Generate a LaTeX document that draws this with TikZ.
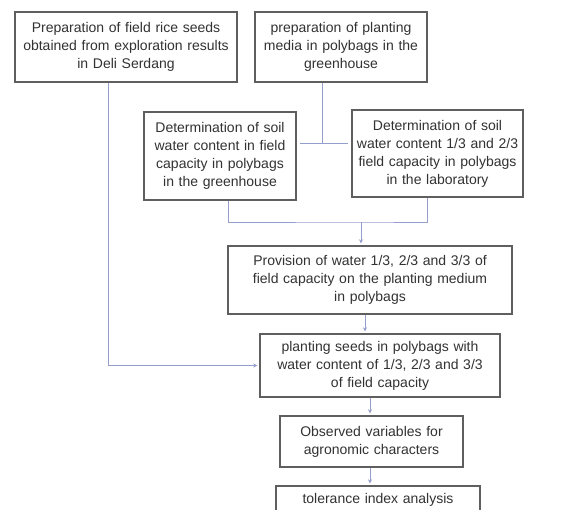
\documentclass[tikz,border=0pt]{standalone}
\usepackage{fontspec}
\setmainfont{Liberation Sans}
\usetikzlibrary{arrows.meta}
\definecolor{boxline}{RGB}{95,95,95}
\definecolor{conncol}{RGB}{150,158,205}
\definecolor{txtcol}{RGB}{50,50,50}
\begin{document}
\begin{tikzpicture}[x=1pt,y=-1pt,
  stepbox/.style={draw=boxline,line width=1.4pt,fill=white,align=center,inner sep=2pt,
    text=txtcol,font=\fontsize{14}{18}\selectfont},
  conn/.style={draw=conncol,line width=0.8pt},
  arr/.style={conn,-{Stealth[length=4pt,width=4pt]},shorten >=2pt}]
\clip (0,0) rectangle (575,510);
\fill[white] (0,0) rectangle (575,510);
\node[stepbox,minimum width=222pt,minimum height=70pt,text width=216pt] (b1) at (126,47)
  {Preparation of field rice seeds\\obtained from exploration results\\in Deli Serdang};
\node[stepbox,minimum width=172pt,minimum height=70pt,text width=166pt] (b2) at (341,47)
  {preparation of planting\\media in polybags in the\\greenhouse};
\node[stepbox,minimum width=152pt,minimum height=88pt,text width=146pt] (b3) at (220,156)
  {Determination of soil\\water content in field\\capacity in polybags\\in the greenhouse};
\node[stepbox,minimum width=171pt,minimum height=87pt,text width=165pt] (b4) at (437.5,153.5)
  {Determination of soil\\water content 1/3 and 2/3\\field capacity in polybags\\in the laboratory};
\node[stepbox,minimum width=284pt,minimum height=68pt,text width=278pt] (b5) at (370,280)
  {Provision of water 1/3, 2/3 and 3/3 of\\field capacity on the planting medium\\in polybags};
\node[stepbox,minimum width=240pt,minimum height=63pt,text width=234pt] (b6) at (380,365.5)
  {planting seeds in polybags with\\water content of 1/3, 2/3 and 3/3\\of field capacity};
\node[stepbox,minimum width=183pt,minimum height=51pt,text width=177pt] (b7) at (371.5,441.5)
  {Observed variables for\\agronomic characters};
\node[stepbox,minimum width=204pt,minimum height=28pt,text width=198pt] (b8) at (378,500)
  {tolerance index analysis};
\coordinate (j1) at (322,143);
\coordinate (j2) at (361,222);
% seeds to planting
\draw[arr] ([xshift=-18pt]b1.south) |- (b6.west);
% media to junction
\draw[conn] (b2.south -| j1) -- (j1);
\draw[conn] ([xshift=3pt]b3.east |- j1) -- ([xshift=-3pt]b4.west |- j1);
% determinations to provision
\draw[conn] ([xshift=8pt]b3.south) |- (j2) -| ([xshift=-10.5pt]b4.south);
\draw[arr] (j2) -- (b5.north -| j2);
\draw[arr] ([xshift=-5pt]b5.south) -- ([xshift=-15pt]b6.north);
\draw[arr] ([xshift=-10pt]b6.south) -- ([xshift=-1.5pt]b7.north);
\draw[arr] ([xshift=-1.5pt]b7.south) -- ([xshift=-8pt]b8.north);
\end{tikzpicture}
\end{document}
